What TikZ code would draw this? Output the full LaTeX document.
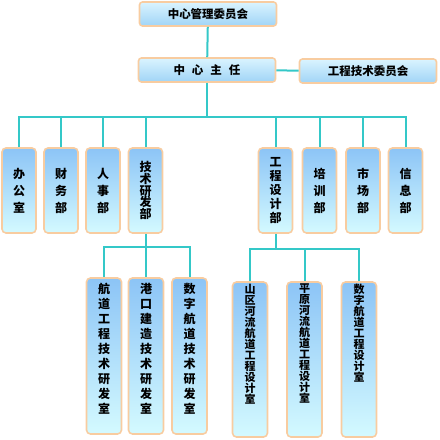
\documentclass[tikz,border=0pt]{standalone}
\usepackage{fontspec}
\newfontfamily\cjk{Noto Sans CJK SC}
\definecolor{boxline}{RGB}{248, 204, 160}
\definecolor{boxtop}{RGB}{140, 196, 246}
\definecolor{boxbottom}{RGB}{212, 250, 255}
\definecolor{headtop}{RGB}{218, 244, 255}
\definecolor{headbottom}{RGB}{160, 212, 246}
\definecolor{linkteal}{RGB}{52, 200, 200}
\newcommand{\vcol}[2]{\parbox[c][#1][t]{16pt}{\centering #2}}

\begin{document}
\begin{tikzpicture}[
    x=1pt, y=-1pt,
    headbox/.style={draw=boxline, line width=1.6pt, rounded corners=3pt, top color=headtop, bottom color=headbottom, minimum width=137pt, minimum height=24pt, inner sep=0pt, font=\cjk\bfseries\fontsize{11.5}{13}\selectfont},
    deptbox/.style={draw=boxline, line width=1.6pt, rounded corners=4pt, top color=boxtop, bottom color=boxbottom, minimum width=34pt, minimum height=85pt, inner sep=0pt, align=center, font=\cjk\bfseries\fontsize{12}{17}\selectfont},
    subbox/.style={deptbox, minimum width=35pt, minimum height=156pt, font=\cjk\bfseries\fontsize{12}{15}\selectfont},
    tightbox/.style={subbox, minimum height=155pt, font=\cjk\bfseries\fontsize{11}{11}\selectfont},
    link/.style={draw=linkteal, line width=2pt}
]
\useasboundingbox (0,0) rectangle (440,440);

% Head
\node[headbox] (board) at (208,14) {中心管理委员会};
\node[headbox] (director) at (207,70) {中\hspace{7pt}心\hspace{7pt}主\hspace{7pt}任};
\node[headbox] (techboard) at (368,71) {工程技术委员会};

% Departments
\node[deptbox] (office) at (19,190.5) {办\\公\\室};
\node[deptbox] (finance) at (61,190.5) {财\\务\\部};
\node[deptbox] (personnel) at (103,190.5) {人\\事\\部};
\node[deptbox, font=\cjk\bfseries\fontsize{12}{11.8}\selectfont] (research) at (145.5,190.5) {技\\术\\研\\发\\部};
\node[deptbox, font=\cjk\bfseries\fontsize{12}{14}\selectfont] (design) at (275.5,190.5) {工\\程\\设\\计\\部};
\node[deptbox] (training) at (319.5,190.5) {培\\训\\部};
\node[deptbox] (market) at (363,190.5) {市\\场\\部};
\node[deptbox] (info) at (405.5,190.5) {信\\息\\部};

% Research labs
\node[subbox] (channellab) at (104,356) {\vcol{146pt}{航\\道\\工\\程\\技\\术\\研\\发\\室}};
\node[subbox] (portlab) at (146,356) {\vcol{146pt}{港\\口\\建\\造\\技\\术\\研\\发\\室}};
\node[subbox] (digitallab) at (189.5,356) {\vcol{146pt}{数\\字\\航\\道\\技\\术\\研\\发\\室}};

% Design offices
\node[tightbox] (mountain) at (250,359.5) {\vcol{151pt}{山\\区\\河\\流\\航\\道\\工\\程\\设\\计\\室}};
\node[tightbox] (plain) at (304.5,359.5) {\vcol{151pt}{平\\原\\河\\流\\航\\道\\工\\程\\设\\计\\室}};
\node[tightbox] (digitaldesign) at (359,359.5) {\vcol{151pt}{数\\字\\航\\道\\工\\程\\设\\计\\室}};

% Connectors
\coordinate (bus) at (207,117);
\coordinate (labbus) at (145.5,247);
\coordinate (designbus) at (275.5,249);

\draw[link] (board) -- (director);
\draw[link] (director) -- (techboard);
\draw[link] (director) -- (bus);
\foreach \d in {office,finance,personnel,research,design,training,market,info}
    \draw[link] (bus) -| (\d.north);

\draw[link] (research) -- (labbus);
\foreach \d in {channellab,portlab,digitallab}
    \draw[link] (labbus) -| (\d.north);

\draw[link] (design) -- (designbus);
\foreach \d in {mountain,plain,digitaldesign}
    \draw[link] (designbus) -| (\d.north);

\end{tikzpicture}
\end{document}
